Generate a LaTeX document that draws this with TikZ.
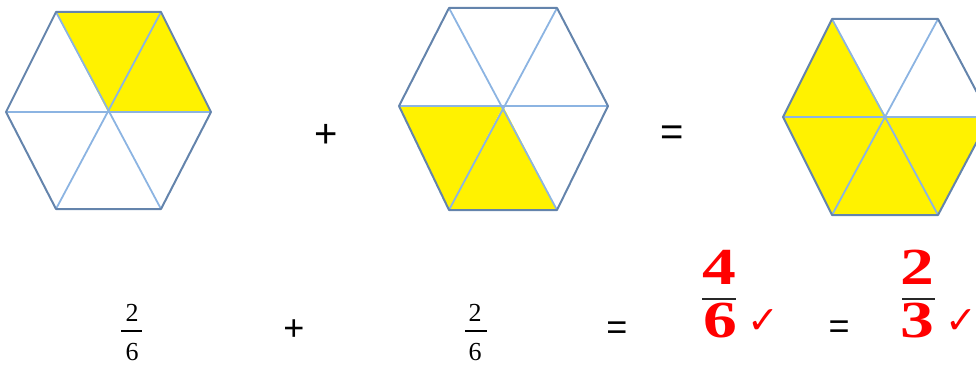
\documentclass[tikz,border=0pt]{standalone}
\usepackage{fontspec}
\setmainfont{Liberation Serif}
\newfontfamily\symfont{DejaVu Sans}
\newfontfamily\opfont{Liberation Sans}
\definecolor{hexout}{RGB}{100,132,172}
\definecolor{hexin}{RGB}{140,180,226}
\definecolor{hexfill}{RGB}{255,242,0}
\definecolor{barcol}{RGB}{40,40,40}
\tikzset{
  outer/.style={draw=hexout,line width=2pt,line join=round},
  inner/.style={draw=hexin,line width=1.8pt},
  yel/.style={fill=hexfill},
  op/.style={inner sep=0pt,font=\opfont\fontsize{40}{42}\selectfont},
  opsmall/.style={inner sep=0pt,font=\opfont\fontsize{36}{38}\selectfont},
  num/.style={inner sep=0pt,font=\fontsize{26}{28}\selectfont},
  rnum/.style={inner sep=0pt,text=red,font=\bfseries\fontsize{52}{54}\selectfont},
  chk/.style={inner sep=0pt,text=red,font=\symfont\fontsize{38}{40}\selectfont},
  bar/.style={draw=black,line width=1.3pt},
  rbar/.style={draw=barcol,line width=2.2pt}
}
\begin{document}
\begin{tikzpicture}[x=1pt,y=-1pt]
\useasboundingbox (0,0) rectangle (976,366);
% hexagon 1
\coordinate (aC) at (108,112);
\coordinate (aL) at (6,112);   \coordinate (aR) at (211,112);
\coordinate (aTL) at (56,12);  \coordinate (aTR) at (161,12);
\coordinate (aBL) at (56,209); \coordinate (aBR) at (161,209);
% hexagon 2
\coordinate (bC) at (503,106);
\coordinate (bL) at (399,106);  \coordinate (bR) at (608,106);
\coordinate (bTL) at (449,8);   \coordinate (bTR) at (557,8);
\coordinate (bBL) at (449,210); \coordinate (bBR) at (557,210);
% hexagon 3
\coordinate (cC) at (886,117);
\coordinate (cL) at (783,117);  \coordinate (cR) at (990,117);
\coordinate (cTL) at (832,19);  \coordinate (cTR) at (938,19);
\coordinate (cBL) at (832,215); \coordinate (cBR) at (938,215);
% fills
\fill[yel] (aTL) -- (aTR) -- (aC) -- cycle;
\fill[yel] (aTR) -- (aR) -- (aC) -- cycle;
\fill[yel] (bL) -- (bC) -- (bBL) -- cycle;
\fill[yel] (bBL) -- (bC) -- (bBR) -- cycle;
\fill[yel] (cTL) -- (cL) -- (cC) -- cycle;
\fill[yel] (cL) -- (cBL) -- (cC) -- cycle;
\fill[yel] (cBL) -- (cBR) -- (cC) -- cycle;
\fill[yel] (cBR) -- (cR) -- (cC) -- cycle;
% lines
\foreach \h in {a,b,c}{
  \draw[inner] (\h L) -- (\h R);
  \draw[inner] (\h TL) -- (\h BR);
  \draw[inner] (\h TR) -- (\h BL);
  \draw[outer] (\h L) -- (\h TL) -- (\h TR) -- (\h R) -- (\h BR) -- (\h BL) -- cycle;
}
% operators top
\node[op] (plusTop) at (326,136) {+};
\node[op] (eqTop) at (672,136) {=};
% bottom row
\node[num] (n1) at (132,312.5) {2};
\draw[bar] (121,331) -- (142,331);
\node[num] (d1) at (132,352) {6};
\node[opsmall] (plusBot) at (294,330) {+};
\node[num] (n2) at (475,312.5) {2};
\draw[bar] (465,331) -- (487,331);
\node[num] (d2) at (475,352) {6};
\node[opsmall] (eqBot1) at (617,331) {=};
\node[rnum] (n3) at (719,267.5) {\scalebox{1.3}[1]{4}};
\draw[rbar] (702,299) -- (736,299);
\node[rnum] (d3) at (720,321) {\scalebox{1.3}[1]{6}};
\node[chk] (chk1) at (763,322) {✓};
\node[opsmall] (eqBot2) at (839,330) {=};
\node[rnum] (n4) at (917.5,267.5) {\scalebox{1.3}[1]{2}};
\draw[rbar] (902,299) -- (935,299);
\node[rnum] (d4) at (917,321) {\scalebox{1.3}[1]{3}};
\node[chk] (chk2) at (961,322) {✓};
\end{tikzpicture}
\end{document}
